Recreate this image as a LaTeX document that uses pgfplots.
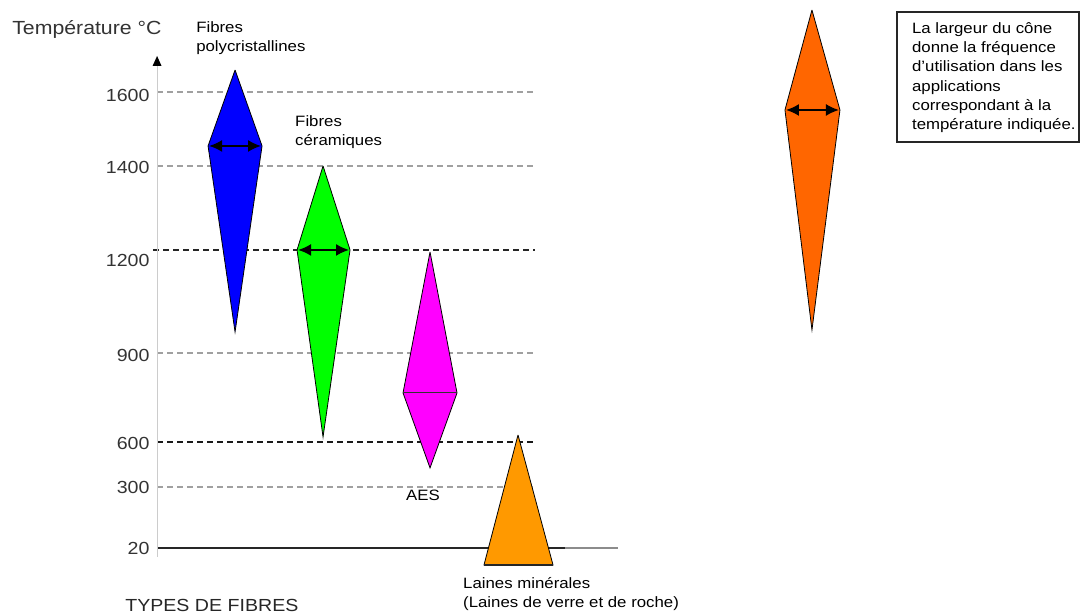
\documentclass[border=0pt]{standalone}
\usepackage{fontspec}
\setmainfont{Liberation Sans}[FakeStretch=1.12]
\usepackage{pgfplots}
\pgfplotsset{compat=1.18}
\usetikzlibrary{arrows.meta}
\definecolor{fbleu}{RGB}{0,0,255}
\definecolor{fvert}{RGB}{0,255,0}
\definecolor{fmag}{RGB}{255,0,255}
\definecolor{forange}{RGB}{255,153,0}
\definecolor{frouge}{RGB}{255,102,0}
\definecolor{gridgray}{RGB}{160,160,160}
\newcommand{\fs}[1]{\fontsize{#1}{#1}\selectfont}
\tikzset{lbl/.style={anchor=base west, inner sep=0, font=\fs{15}, text=black},
  dbl/.style={black, line width=1.8pt, {Latex[length=13pt,width=12pt]}-{Latex[length=13pt,width=12pt]}}}

\begin{document}
\begin{tikzpicture}
\begin{axis}[
  width=1080pt, height=615pt, scale only axis,
  xmin=0, xmax=1080, ymin=0, ymax=615,
  y dir=reverse,
  clip=false,
  axis line style={draw=none},
  xtick=\empty,
  ytick={95,168,261,356,444,488,549},
  yticklabels={1600,1400,1200,900,600,300,20},
  major tick length=0pt,
  yticklabel style={anchor=east, xshift=153pt, font=\fs{17.5}, text=black!80},
  /pgf/number format/assume math mode=true,
]
\path (axis cs:0,0) rectangle (axis cs:1080,615);

% reference lines (pixel rows)
\addplot[gridgray, line width=1.3pt, dash pattern=on 6pt off 4pt] coordinates {(157,92)(535,92)};
\addplot[gridgray, line width=1.3pt, dash pattern=on 6pt off 4pt] coordinates {(157,166)(535,166)};
\addplot[black!85, line width=1.3pt, dash pattern=on 6pt off 4pt] coordinates {(153,250)(535,250)};
\addplot[gridgray, line width=1.6pt, dash pattern=on 6pt off 4pt] coordinates {(157,353)(535,353)};
\addplot[black!90, line width=1.3pt, dash pattern=on 6pt off 4pt] coordinates {(157,442)(535,442)};
\addplot[gridgray, line width=1.3pt, dash pattern=on 6pt off 4pt] coordinates {(157,487)(535,487)};
\addplot[black!85, line width=1.8pt] coordinates {(157,548)(565,548)};
\addplot[black!45, line width=1.5pt] coordinates {(565,548)(618,548)};

% vertical axis
\addplot[black!20, line width=1pt] coordinates {(157,557)(157,64)};
\addplot[fill=black, draw=none] coordinates {(152.5,66)(161.5,66)(157,56)};

% fibres polycristallines
\addplot[fill=fbleu, draw=black, line width=0.8pt] coordinates {(235,70)(262,146)(235,332)(208,146)(235,70)};
\addplot[dbl] coordinates {(209,146)(261,146)};

% fibres ceramiques
\addplot[fill=fvert, draw=black, line width=0.8pt] coordinates {(323,166)(350,250)(323,437)(297,250)(323,166)};
\addplot[dbl] coordinates {(298,250)(349,250)};

% AES
\addplot[fill=fmag, draw=black, line width=0.8pt] coordinates {(430,252)(457,393)(430,468)(403,393)(430,252)};
\addplot[black!80, line width=1pt] coordinates {(403,393)(457,393)};

% laines minerales
\addplot[fill=forange, draw=black, line width=0.8pt] coordinates {(518,435)(553,565)(484,565)(518,435)};
\addplot[black!85, line width=1.5pt] coordinates {(484,565)(553,565)};

% legend cone
\addplot[fill=frouge, draw=black, line width=0.8pt] coordinates {(812,10)(840,110)(812,330)(785,110)(812,10)};
\addplot[dbl] coordinates {(786,110)(839,110)};

% texts
\node[anchor=base west, inner sep=0, font=\fs{19}, text=black!80] at (axis cs:12,35) {Température °C};
\node[lbl] at (axis cs:196,33) {Fibres};
\node[lbl] at (axis cs:196,52) {polycristallines};
\node[lbl] at (axis cs:295,127) {Fibres};
\node[lbl] at (axis cs:295,146) {céramiques};
\node[lbl] at (axis cs:406,501) {AES};
\node[lbl] at (axis cs:463,589) {Laines minérales};
\node[lbl] at (axis cs:463,608) {(Laines de verre et de roche)};
\node[anchor=base west, inner sep=0, font=\fs{17.5}, text=black!85] at (axis cs:125,612) {TYPES DE FIBRES};

\draw[black!85, line width=1.2pt] (axis cs:897,12) rectangle (axis cs:1079,142);
\node[anchor=north west, inner sep=0, font=\fontsize{15}{19.3}\selectfont, align=left] at (axis cs:912,22)
  {La largeur du cône\\donne la fréquence\\d'utilisation dans les\\applications\\correspondant à la\\température indiquée.};
\end{axis}
\end{tikzpicture}
\end{document}
